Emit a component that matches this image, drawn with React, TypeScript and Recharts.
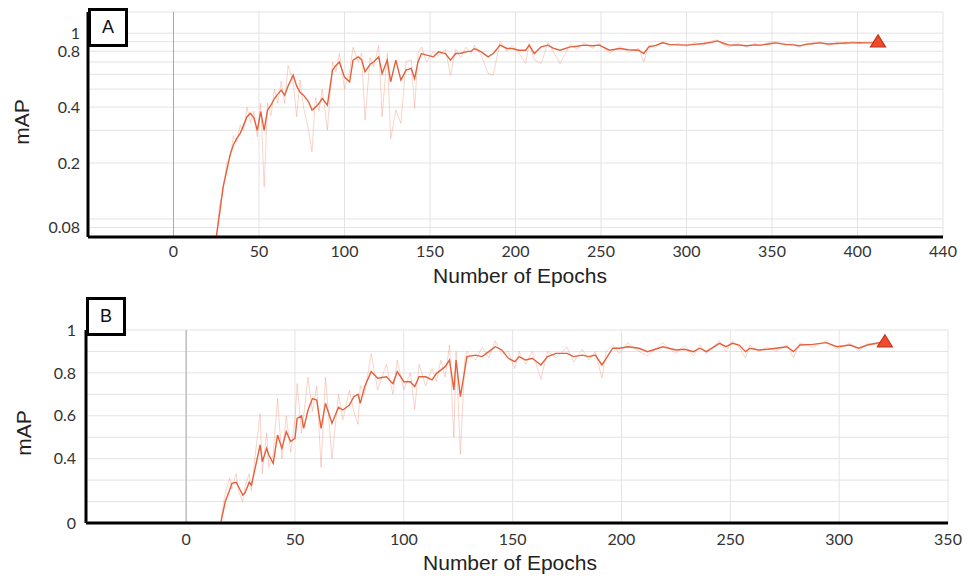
import React from "react";
import {
  LineChart,
  Line,
  XAxis,
  YAxis,
  CartesianGrid,
  ReferenceLine,
} from "recharts";

// Panel A – mAP per epoch (log y axis)
const aEpochs = [
  25, 27, 29, 31, 33, 35, 37, 39, 41, 43,
  45, 47, 49, 51, 53, 55, 57, 59, 61, 63,
  65, 67, 70, 72, 74, 76, 79, 81, 83, 85,
  87, 90, 93, 95, 97, 100, 103, 105, 108, 110,
  112, 115, 117, 120, 122, 125, 127, 130, 133, 136,
  139, 141, 143, 145, 148, 152, 155, 159, 162, 165,
  168, 171, 174, 176, 180, 184, 187, 191, 195, 198,
  202, 206, 208, 211, 215, 219, 222, 226, 232, 236,
  240, 245, 249, 255, 261, 266, 272, 275, 278, 282,
  286, 290, 295, 300, 305, 310, 315, 318, 322, 325,
  330, 335, 340, 343, 348, 352, 358, 362, 366, 370,
  374, 378, 383, 388, 393, 397, 401, 405, 409, 412,
];
const aSmooth = [
  0.08, 0.108, 0.149, 0.18, 0.22, 0.25, 0.272, 0.289, 0.32, 0.355,
  0.37, 0.35, 0.3, 0.378, 0.3, 0.386, 0.41, 0.445, 0.47, 0.494,
  0.464, 0.52, 0.594, 0.52, 0.48, 0.464, 0.427, 0.386, 0.4, 0.418,
  0.445, 0.41, 0.633, 0.67, 0.7, 0.58, 0.547, 0.716, 0.746, 0.72,
  0.62, 0.68, 0.7, 0.746, 0.607, 0.716, 0.547, 0.716, 0.559, 0.633,
  0.646, 0.57, 0.7, 0.777, 0.762, 0.746, 0.793, 0.777, 0.716, 0.777,
  0.78, 0.793, 0.8, 0.827, 0.793, 0.746, 0.777, 0.862, 0.827, 0.827,
  0.81, 0.81, 0.862, 0.777, 0.844, 0.862, 0.83, 0.81, 0.844, 0.85,
  0.862, 0.855, 0.862, 0.81, 0.827, 0.815, 0.81, 0.777, 0.844, 0.86,
  0.887, 0.87, 0.865, 0.862, 0.87, 0.88, 0.895, 0.909, 0.88, 0.862,
  0.865, 0.855, 0.865, 0.862, 0.875, 0.887, 0.87, 0.865, 0.855, 0.87,
  0.88, 0.887, 0.875, 0.88, 0.885, 0.887, 0.89, 0.887, 0.89, 0.898,
];
const aRaw = [
  0.075, 0.12, 0.14, 0.2, 0.21, 0.28, 0.26, 0.32, 0.3, 0.4,
  0.33, 0.38, 0.277, 0.42, 0.149, 0.42, 0.36, 0.5, 0.42, 0.55,
  0.42, 0.67, 0.55, 0.355, 0.56, 0.4, 0.3, 0.23, 0.45, 0.38,
  0.5, 0.3, 0.7, 0.62, 0.78, 0.5, 0.62, 0.84, 0.7, 0.78,
  0.34, 0.74, 0.66, 0.86, 0.355, 0.78, 0.27, 0.386, 0.327, 0.7,
  0.72, 0.394, 0.78, 0.844, 0.7, 0.8, 0.75, 0.82, 0.594, 0.82,
  0.74, 0.84, 0.78, 0.86, 0.76, 0.607, 0.594, 0.9, 0.8, 0.86,
  0.78, 0.687, 0.88, 0.72, 0.687, 0.89, 0.8, 0.687, 0.87, 0.82,
  0.89, 0.83, 0.88, 0.78, 0.85, 0.79, 0.83, 0.7, 0.86, 0.84,
  0.9, 0.85, 0.88, 0.85, 0.89, 0.86, 0.91, 0.92, 0.86, 0.84,
  0.88, 0.84, 0.88, 0.85, 0.89, 0.9, 0.86, 0.88, 0.84, 0.88,
  0.87, 0.9, 0.86, 0.89, 0.87, 0.9, 0.88, 0.89, 0.88, 0.898,
];
const aXTicks = [0, 50, 100, 150, 200, 250, 300, 350, 400, 450];
const aXLabels = ["0", "50", "100", "150", "200", "250", "300", "350", "400", "440"];
const aYTicks = [0.09, 0.1, 0.2, 0.3, 0.4, 0.5, 0.6, 0.7, 0.8, 0.9, 1];
const aYLabels = ["0.08", "", "0.2", "", "0.4", "", "", "", "0.8", "", "1"];

// Panel B – mAP per epoch (linear y axis)
const bEpochs = [
  16, 18, 20, 21, 23, 24, 26, 27, 29, 30,
  32, 34, 35, 37, 38, 40, 42, 44, 46, 48,
  50, 51, 53, 54, 56, 58, 60, 62, 64, 67,
  70, 72, 75, 77, 79, 80, 82, 85, 88, 92,
  95, 97, 100, 103, 105, 107, 110, 113, 115, 117,
  119, 121, 123, 124, 126, 128, 129, 133, 136, 139,
  142, 145, 148, 151, 153, 156, 159, 163, 166, 170,
  175, 178, 182, 185, 188, 191, 193, 196, 199, 203,
  208, 212, 219, 225, 229, 233, 236, 239, 245, 248,
  251, 254, 257, 259, 263, 267, 271, 276, 279, 282,
  288, 294, 299, 305, 309, 313, 317, 321,
];
const bSmooth = [
  0.106, 0.2, 0.254, 0.285, 0.29, 0.27, 0.23, 0.24, 0.29, 0.277,
  0.37, 0.464, 0.386, 0.448, 0.417, 0.378, 0.51, 0.448, 0.526, 0.48,
  0.495, 0.588, 0.6, 0.541, 0.627, 0.68, 0.673, 0.541, 0.658, 0.565,
  0.64, 0.627, 0.65, 0.689, 0.7, 0.658, 0.736, 0.806, 0.775, 0.782,
  0.75, 0.806, 0.759, 0.759, 0.736, 0.782, 0.782, 0.767, 0.798, 0.813,
  0.829, 0.86, 0.72, 0.86, 0.689, 0.813, 0.876, 0.883, 0.876, 0.899,
  0.922, 0.907, 0.868, 0.852, 0.876, 0.86, 0.868, 0.837, 0.876, 0.891,
  0.891, 0.876, 0.883, 0.876, 0.883, 0.837, 0.868, 0.915, 0.915, 0.922,
  0.915, 0.899, 0.922, 0.907, 0.91, 0.899, 0.915, 0.899, 0.938, 0.922,
  0.938, 0.93, 0.899, 0.915, 0.907, 0.91, 0.915, 0.922, 0.899, 0.93,
  0.933, 0.941, 0.922, 0.93, 0.915, 0.93, 0.938, 0.945,
];
const bRaw = [
  0.12, 0.24, 0.31, 0.26, 0.33, 0.25, 0.2, 0.27, 0.33, 0.25,
  0.44, 0.61, 0.33, 0.52, 0.36, 0.42, 0.68, 0.4, 0.6, 0.43,
  0.58, 0.75, 0.52, 0.6, 0.78, 0.62, 0.74, 0.36, 0.78, 0.4,
  0.7, 0.58, 0.72, 0.62, 0.56, 0.74, 0.7, 0.89, 0.72, 0.84,
  0.7, 0.86, 0.72, 0.8, 0.63, 0.84, 0.74, 0.82, 0.76, 0.86,
  0.78, 0.93, 0.5, 0.9, 0.42, 0.86, 0.9, 0.86, 0.92, 0.87,
  0.95, 0.89, 0.9, 0.82, 0.9, 0.84, 0.9, 0.77, 0.9, 0.87,
  0.92, 0.85, 0.91, 0.86, 0.9, 0.775, 0.9, 0.93, 0.89, 0.94,
  0.9, 0.88, 0.94, 0.89, 0.93, 0.88, 0.93, 0.89, 0.95, 0.9,
  0.95, 0.92, 0.87, 0.93, 0.9, 0.92, 0.9, 0.93, 0.87, 0.94,
  0.92, 0.95, 0.91, 0.94, 0.9, 0.94, 0.93, 0.945,
];
const bXTicks = [0, 50, 100, 150, 200, 250, 300, 350];
const bYTicks = [0.1, 0.2, 0.3, 0.4, 0.5, 0.6, 0.7, 0.8, 0.9, 1];
const bYLabels = ["0", "", "", "0.4", "", "0.6", "", "0.8", "", "1"];

const aData = aEpochs.map((epoch, i) => ({ epoch, smooth: aSmooth[i], raw: aRaw[i] }));
const bData = bEpochs.map((epoch, i) => ({ epoch, smooth: bSmooth[i], raw: bRaw[i] }));

const LINE = "#e5603c";
const RAW = "#ef8466";
const GRID = "#e3e3e3";
const tickStyle = { fill: "#333", fontSize: 16, fontFamily: "Lato" };
const titleFont = "'Liberation Sans', Arial, sans-serif";

// triangle marker on the last point only
const endMarker = (last: number) => (props: any) => {
  const { cx, cy, index } = props;
  if (index !== last) return <g key={`m-${index}`} />;
  return (
    <polygon
      key={`m-${index}`}
      points={`${cx},${cy - 7} ${cx + 7.5},${cy + 5} ${cx - 7.5},${cy + 5}`}
      fill="#f04c28"
      stroke="#c2311c"
      strokeWidth={1.2}
    />
  );
};

function PanelBox({ left, top, letter }: { left: number; top: number; letter: string }) {
  return (
    <div
      style={{
        position: "absolute",
        left,
        top,
        width: 34,
        height: 33,
        border: "3px solid #000",
        background: "#fff",
        fontFamily: titleFont,
        fontSize: 18,
        lineHeight: "33px",
        textAlign: "center",
        color: "#111",
      }}
    >
      {letter}
    </div>
  );
}

function AxisTitles({ yx, yy, xx, xy }: { yx: number; yy: number; xx: number; xy: number }) {
  return (
    <>
      <div
        style={{
          position: "absolute",
          left: yx - 40,
          top: yy - 12,
          width: 80,
          textAlign: "center",
          transform: "rotate(-90deg)",
          fontFamily: titleFont,
          fontSize: 21,
          lineHeight: "24px",
          color: "#222",
        }}
      >
        mAP
      </div>
      <div
        style={{
          position: "absolute",
          left: xx - 120,
          top: xy - 12,
          width: 240,
          textAlign: "center",
          fontFamily: titleFont,
          fontSize: 21,
          lineHeight: "24px",
          color: "#222",
        }}
      >
        Number of Epochs
      </div>
    </>
  );
}

export default function App() {
  return (
    <div style={{ position: "absolute", left: 0, top: 0, width: 965, height: 579, background: "#fff" }}>
      {/* Panel A */}
      <div style={{ position: "absolute", left: 0, top: 0 }}>
        <LineChart width={965} height={290} data={aData} margin={{ top: 12, right: 22, left: 28, bottom: 23 }}>
          <CartesianGrid stroke={GRID} />
          <XAxis
            type="number"
            dataKey="epoch"
            domain={[-50, 450]}
            ticks={aXTicks}
            interval={0}
            tickFormatter={(v) => aXLabels[aXTicks.indexOf(v)]}
            allowDataOverflow
            height={30}
            tickSize={0}
            tickMargin={9}
            tick={tickStyle}
            axisLine={{ stroke: "#000", strokeWidth: 3 }}
          />
          <YAxis
            scale="log"
            domain={[0.08, 1.3]}
            ticks={aYTicks}
            interval={0}
            tickFormatter={(v) => aYLabels[aYTicks.indexOf(v)]}
            allowDataOverflow
            width={60}
            tickSize={0}
            tickMargin={8}
            tick={tickStyle}
            axisLine={{ stroke: "#000", strokeWidth: 3 }}
          />
          <ReferenceLine x={0} stroke="#a9a9a9" />
          <Line dataKey="raw" stroke={RAW} strokeOpacity={0.35} strokeWidth={1} dot={false} isAnimationActive={false} />
          <Line
            dataKey="smooth"
            stroke={LINE}
            strokeWidth={1.4}
            dot={endMarker(aData.length - 1)}
            activeDot={false}
            isAnimationActive={false}
          />
        </LineChart>
      </div>

      {/* Panel B */}
      <div style={{ position: "absolute", left: 0, top: 290 }}>
        <LineChart width={965} height={289} data={bData} margin={{ top: 40, right: 17, left: 26, bottom: 26 }}>
          <CartesianGrid stroke={GRID} />
          <XAxis
            type="number"
            dataKey="epoch"
            domain={[-46, 350]}
            ticks={bXTicks}
            interval={0}
            allowDataOverflow
            height={30}
            tickSize={0}
            tickMargin={11}
            tick={tickStyle}
            axisLine={{ stroke: "#000", strokeWidth: 3 }}
          />
          <YAxis
            domain={[0.1, 1]}
            ticks={bYTicks}
            interval={0}
            tickFormatter={(v) => bYLabels[bYTicks.indexOf(v)]}
            allowDataOverflow
            width={60}
            tickSize={0}
            tickMargin={10}
            tick={tickStyle}
            axisLine={{ stroke: "#000", strokeWidth: 3 }}
          />
          <ReferenceLine x={0} stroke="#a9a9a9" />
          <Line dataKey="raw" stroke={RAW} strokeOpacity={0.35} strokeWidth={1} dot={false} isAnimationActive={false} />
          <Line
            dataKey="smooth"
            stroke={LINE}
            strokeWidth={1.4}
            dot={endMarker(bData.length - 1)}
            activeDot={false}
            isAnimationActive={false}
          />
        </LineChart>
      </div>

      <PanelBox left={88} top={8} letter="A" />
      <PanelBox left={86} top={297} letter="B" />
      <AxisTitles yx={22} yy={122} xx={520} xy={276} />
      <AxisTitles yx={24} yy={433} xx={510} xy={563} />
    </div>
  );
}
